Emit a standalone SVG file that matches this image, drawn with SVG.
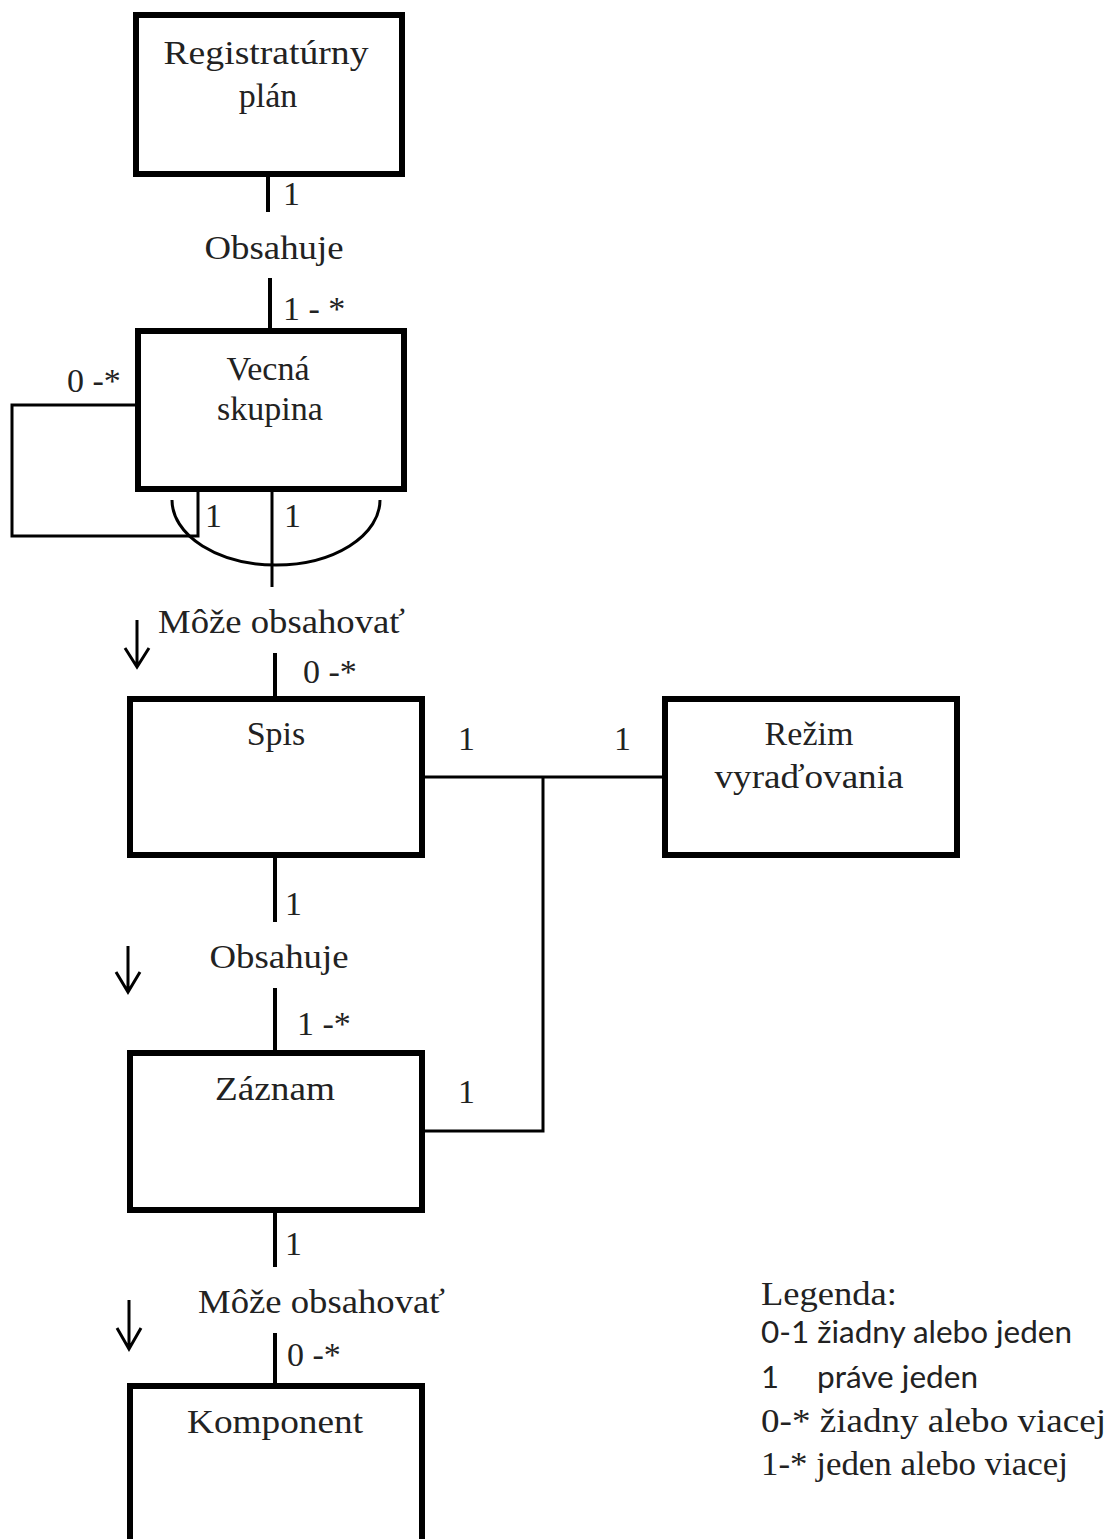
<svg xmlns="http://www.w3.org/2000/svg" width="1107" height="1539" viewBox="0 0 1107 1539">
<style>
.box{fill:#fff;stroke:#000;stroke-width:6}
.ln{fill:none;stroke:#000;stroke-width:3}
.lt{fill:none;stroke:#000;stroke-width:4}
.t{font-family:"Liberation Serif","Times New Roman",serif;font-size:34px;fill:#222}
.c{text-anchor:middle}
.s{font-family:Lato,"Open Sans","Liberation Sans",sans-serif;font-size:31px;fill:#222}
</style>
<rect width="1107" height="1539" fill="#fff"/>
<g id="connectors">
<line class="lt" x1="268" y1="177" x2="268" y2="212"/>
<line class="lt" x1="270" y1="278" x2="270" y2="328"/>
<polyline class="ln" points="135,405 12,405 12,536 198,536 198,492"/>
<line class="ln" x1="272" y1="492" x2="272" y2="587"/>
<path class="ln" d="M172,500 A104,65 0 0,0 380,500"/>
<line class="lt" x1="275" y1="653" x2="275" y2="696"/>
<line class="lt" x1="275" y1="858" x2="275" y2="922"/>
<line class="lt" x1="275" y1="988" x2="275" y2="1050"/>
<line class="lt" x1="275" y1="1213" x2="275" y2="1267"/>
<line class="lt" x1="275" y1="1333" x2="275" y2="1383"/>
<polyline class="ln" points="425,777 662,777"/>
<polyline class="ln" points="543,777 543,1131 425,1131"/>
<path class="ln" d="M137,620 V667 M125,648 L137,667 L149,648"/>
<path class="ln" d="M128,946 V992 M116,972 L128,992 L140,972"/>
<path class="ln" d="M129,1300 V1349 M117,1328 L129,1349 L141,1328"/>
<text class="t" x="283" y="205">1</text>
<text class="t c" x="274" y="259" textLength="139" lengthAdjust="spacingAndGlyphs">Obsahuje</text>
<text class="t" x="283" y="320">1 - *</text>
<text class="t" x="67" y="392">0 -*</text>
<text class="t" x="205" y="527">1</text>
<text class="t" x="284" y="527">1</text>
<text class="t" x="158" y="633" textLength="247" lengthAdjust="spacingAndGlyphs">Môže obsahovať</text>
<text class="t" x="303" y="683">0 -*</text>
<text class="t" x="458" y="750">1</text>
<text class="t" x="614" y="750">1</text>
<text class="t" x="285" y="915">1</text>
<text class="t c" x="279" y="968" textLength="139" lengthAdjust="spacingAndGlyphs">Obsahuje</text>
<text class="t" x="297" y="1035">1 -*</text>
<text class="t" x="458" y="1103">1</text>
<text class="t" x="285" y="1255">1</text>
<text class="t" x="198" y="1313" textLength="247" lengthAdjust="spacingAndGlyphs">Môže obsahovať</text>
<text class="t" x="287" y="1366">0 -*</text>
</g>
<g id="registraturny-plan">
<rect class="box" x="136" y="15" width="266" height="159"/>
<text class="t c" x="266" y="64" textLength="205" lengthAdjust="spacingAndGlyphs">Registratúrny</text>
<text class="t c" x="268" y="107">plán</text>
</g>
<g id="vecna-skupina">
<rect class="box" x="138" y="331" width="266" height="158"/>
<text class="t c" x="268" y="380">Vecná</text>
<text class="t c" x="270" y="420">skupina</text>
</g>
<g id="spis">
<rect class="box" x="130" y="699" width="292" height="156"/>
<text class="t c" x="276" y="745">Spis</text>
</g>
<g id="rezim-vyradovania">
<rect class="box" x="665" y="699" width="292" height="156"/>
<text class="t c" x="809" y="745">Režim</text>
<text class="t c" x="809" y="788" textLength="189" lengthAdjust="spacingAndGlyphs">vyraďovania</text>
</g>
<g id="zaznam">
<rect class="box" x="130" y="1053" width="292" height="157"/>
<text class="t c" x="275" y="1100" textLength="120" lengthAdjust="spacingAndGlyphs">Záznam</text>
</g>
<g id="komponent">
<rect class="box" x="130" y="1386" width="292" height="200"/>
<text class="t c" x="275" y="1433" textLength="176" lengthAdjust="spacingAndGlyphs">Komponent</text>
</g>
<g id="legenda">
<text class="t" x="761" y="1305" textLength="136" lengthAdjust="spacingAndGlyphs">Legenda:</text>
<text class="s" x="761" y="1343" textLength="311" lengthAdjust="spacingAndGlyphs">0-1 žiadny alebo jeden</text>
<text class="s" x="761" y="1388">1</text>
<text class="s" x="817" y="1388" textLength="161" lengthAdjust="spacingAndGlyphs">práve jeden</text>
<text class="t" x="761" y="1432" textLength="345" lengthAdjust="spacingAndGlyphs">0-* žiadny alebo viacej</text>
<text class="t" x="761" y="1475" textLength="307" lengthAdjust="spacingAndGlyphs">1-* jeden alebo viacej</text>
</g>
</svg>
